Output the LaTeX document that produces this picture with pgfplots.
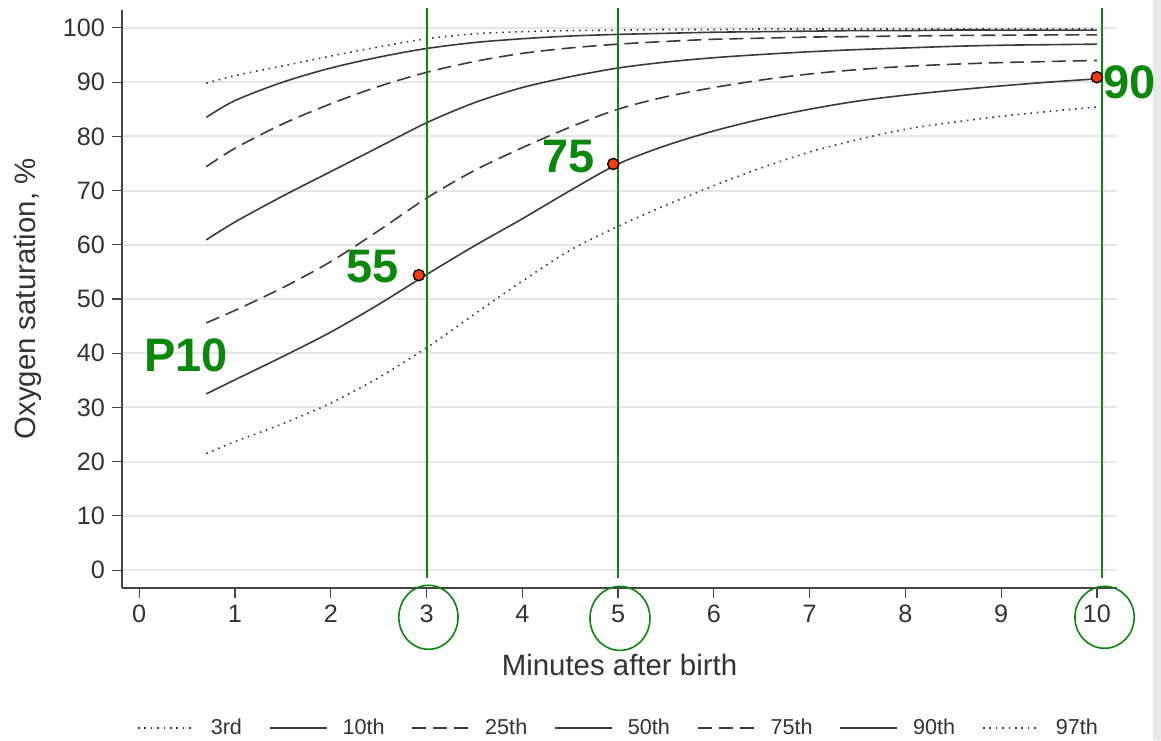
\documentclass[border=0pt]{standalone}
\usepackage{pgfplots}
\pgfplotsset{compat=1.18}
\usepackage{fontspec}
\setmainfont{Liberation Sans}
\definecolor{curvecol}{HTML}{3A3A3A}
\definecolor{axisgray}{HTML}{454545}
\definecolor{labelgray}{HTML}{333333}
\definecolor{gridgray}{HTML}{E6E6E6}
\definecolor{grn}{HTML}{0B870B}
\definecolor{reddot}{HTML}{FF3A10}
\definecolor{stripgray}{HTML}{E8E8E8}

\pgfplotstableread{
x p3 p10 p25 p50 p75 p90 p97
0.7 21.5 32.5 45.6 60.9 74.4 83.5 89.8
1.0 23.7 35.1 47.9 64.2 77.8 86.6 91.2
1.5 27.0 39.4 52.1 69.0 82.3 90.0 93.0
2.0 30.8 43.9 56.9 73.5 86.0 92.6 94.8
2.5 35.5 49.0 62.6 78.0 89.2 94.6 96.5
3.0 41.0 54.5 68.6 82.5 91.8 96.2 98.0
3.5 47.2 59.8 73.7 86.2 93.8 97.3 98.9
4.0 53.3 64.8 77.9 89.0 95.3 98.0 99.3
4.5 59.0 70.0 81.7 91.0 96.3 98.5 99.5
5.0 63.4 74.9 85.0 92.6 97.0 98.8 99.6
5.5 67.3 78.3 87.3 93.7 97.5 99.0 99.7
6.0 70.9 81.0 89.0 94.5 97.9 99.2 99.7
6.5 74.2 83.2 90.4 95.1 98.1 99.3 99.8
7.0 77.1 85.0 91.5 95.6 98.3 99.4 99.8
7.5 79.4 86.5 92.3 96.0 98.4 99.5 99.8
8.0 81.3 87.6 92.9 96.3 98.5 99.5 99.8
8.5 82.6 88.5 93.3 96.6 98.6 99.6 99.8
9.0 83.7 89.3 93.6 96.8 98.65 99.6 99.8
9.5 84.6 90.0 93.8 96.9 98.7 99.6 99.8
10.0 85.4 90.6 94.0 97.0 98.7 99.6 99.8
}\pcttable

\begin{document}
\begin{tikzpicture}
\fill[stripgray] (515.5pt,-76pt) rectangle (519.5pt,294pt);
\begin{axis}[
  at={(0pt,0pt)}, anchor=south west,
  scale only axis, width=497.5pt, height=289pt,
  xmin=-0.18, xmax=10.21, ymin=-3.3, ymax=103.3,
  clip=false,
  axis x line*=bottom, axis y line*=left,
  axis line style={color=axisgray, line width=0.6pt},
  xtick={0,1,...,10}, ytick={0,10,...,100},
  ymajorgrids, grid style={color=gridgray, line width=1pt},
  major tick length=5pt, tick align=outside,
  tick style={color=axisgray, line width=0.6pt},
  /pgf/number format/assume math mode=true,
  ticklabel style={font=\fontsize{12.6}{14}\selectfont, text=labelgray},
  xlabel={Minutes after birth}, ylabel={Oxygen saturation, \%},
  label style={font=\fontsize{14.7}{16}\selectfont, text=labelgray},
  xlabel style={at={(axis description cs:0.5,-0.1332)}, anchor=center},
  ylabel style={at={(axis description cs:-0.0945,0.5)}, anchor=center},
  legend columns=7,
  legend style={at={(axis description cs:0.5,-0.242)}, anchor=center, draw=none, fill=none,
    font=\fontsize{10.8}{13}\selectfont, text=labelgray,
    /tikz/every odd column/.append style={column sep=5.5pt},
    /tikz/every even column/.append style={column sep=11.5pt}},
  legend image code/.code={\draw[#1] (0pt,0pt) -- (28.5pt,0pt);},
  every axis plot/.append style={curvecol, line width=0.8pt, smooth},
]
\addplot[dash pattern=on 0.8pt off 2.4pt] table[x=x,y=p3] {\pcttable};
\addlegendentry{3rd}
\addplot[solid] table[x=x,y=p10] {\pcttable};
\addlegendentry{10th}
\addplot[dash pattern=on 7pt off 3.5pt] table[x=x,y=p25] {\pcttable};
\addlegendentry{25th}
\addplot[solid] table[x=x,y=p50] {\pcttable};
\addlegendentry{50th}
\addplot[dash pattern=on 7pt off 3.5pt] table[x=x,y=p75] {\pcttable};
\addlegendentry{75th}
\addplot[solid] table[x=x,y=p90] {\pcttable};
\addlegendentry{90th}
\addplot[dash pattern=on 0.8pt off 2.4pt] table[x=x,y=p97] {\pcttable};
\addlegendentry{97th}

% green vertical reference lines
\addplot[grn, line width=1pt, forget plot, sharp plot] coordinates {(3,-1.5) (3,103.7)};
\addplot[grn, line width=1pt, forget plot, sharp plot] coordinates {(5,-1.5) (5,103.7)};
\addplot[grn, line width=1pt, forget plot, sharp plot] coordinates {(10.05,-1.5) (10.05,103.7)};

% circles round tick labels
\draw[grn, line width=0.8pt] (axis cs:3.02,-8.7) ellipse [x radius=14.8pt, y radius=16pt];
\draw[grn, line width=0.8pt] (axis cs:5.02,-8.9) ellipse [x radius=15pt, y radius=16pt];
\draw[grn, line width=0.8pt] (axis cs:10.08,-8.7) ellipse [x radius=14.8pt, y radius=15.5pt];

% red points
\addplot[only marks, forget plot, mark=*, mark size=2.8pt, mark options={fill=reddot, draw=black, line width=0.7pt}]
  coordinates {(2.92,54.4) (4.95,74.9) (10.0,90.9)};

% green labels
\node[grn, font=\fontsize{23.5}{26}\selectfont\bfseries] at (axis cs:0.49,39.7) {P10};
\node[grn, font=\fontsize{23.5}{26}\selectfont\bfseries] at (axis cs:2.44,56.0) {55};
\node[grn, font=\fontsize{23.5}{26}\selectfont\bfseries] at (axis cs:4.48,76.3) {75};
\node[grn, font=\fontsize{23.5}{26}\selectfont\bfseries] at (axis cs:10.34,90.0) {90};
\end{axis}
\pgfresetboundingbox
\path (-61pt,-76pt) rectangle (519.5pt,294pt);
\end{tikzpicture}
\end{document}
